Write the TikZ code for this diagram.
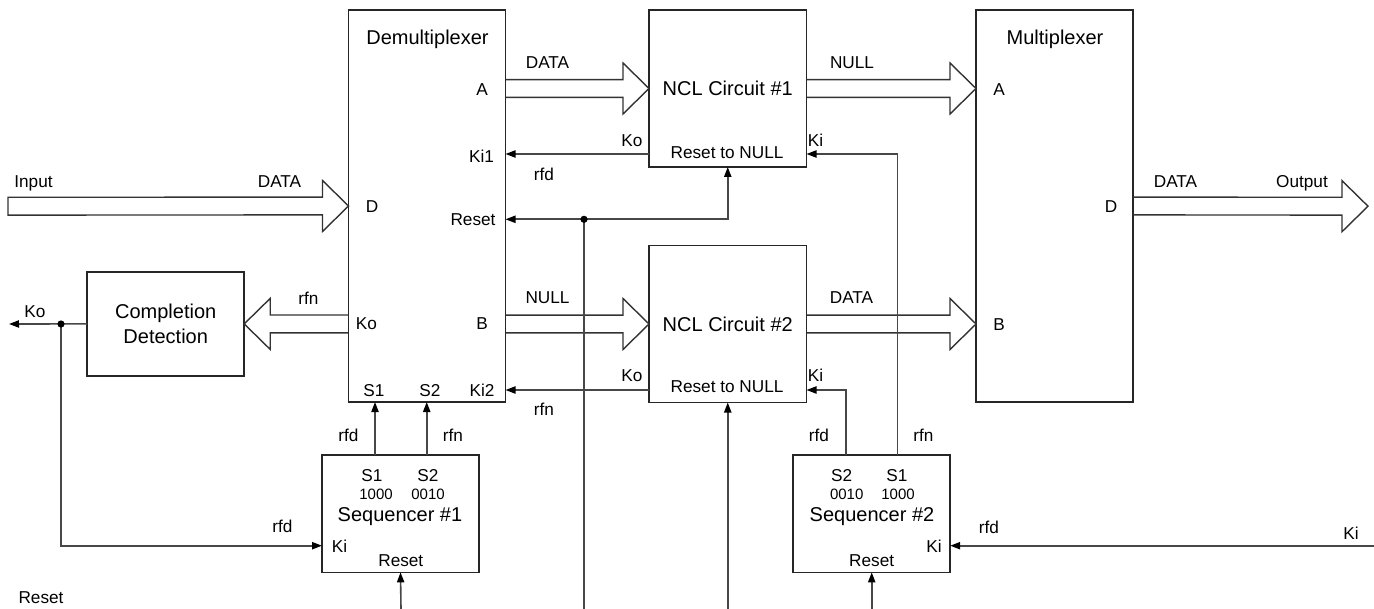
\documentclass[tikz,border=0pt]{standalone}
\usepackage{fontspec}
\setmainfont{Liberation Sans}
\usetikzlibrary{arrows.meta, calc}

\colorlet{wirec}{black!72}
\tikzset{
  blk/.style={draw=black!85, line width=0.8pt, inner sep=0pt, outer sep=0pt,
    minimum width=78.5pt, align=center, font=\fontsize{10}{12.5}\selectfont},
  wire/.style={draw=wirec, line width=0.8pt},
  sig/.style={wire, -{Triangle[length=5pt, width=3.6pt, color=black]}},
  busline/.style={draw=black!80, line width=0.7pt},
  lbl/.style={inner sep=0pt, text height=6.15pt, text depth=0pt, font=\fontsize{8.6}{10}\selectfont},
  biglbl/.style={lbl, text height=7.2pt, font=\fontsize{10}{12}\selectfont},
  numlbl/.style={lbl, text height=5.4pt, font=\fontsize{7.5}{9}\selectfont},
}
% hollow bus arrow from #2 to #3
\newcommand\bus[3][]{%
  \draw[busline] let \p1=#2, \p2=#3, \n1={13*sign(\x2-\x1)} in
    (\x1,\y1+4.45pt) -- (\x2-\n1,\y2+4.45pt) -- (\x2-\n1,\y2+12.75pt) -- (\x2,\y2)
    -- (\x2-\n1,\y2-12.75pt) -- (\x2-\n1,\y2-4.45pt) -- (\x1,\y1-4.45pt) #1;}

\begin{document}
\begin{tikzpicture}[x=0.5pt, y=-0.5pt]
\useasboundingbox (0,0) rectangle (1374,609);

% blocks
\node[blk, minimum height=196pt] (demux) at (427,206) {};
\node[blk, minimum height=196pt] (mux) at (1054.5,206) {};
\node[blk, minimum width=78.75pt, minimum height=78.5pt] (ncla) at (727.75,88.5) {NCL Circuit \#1};
\node[blk, minimum width=78.75pt, minimum height=78.5pt] (nclb) at (727.75,324) {NCL Circuit \#2};
\node[blk, minimum height=52.15pt] (compl) at (165.7,323.9) {Completion\\Detection};
\node[blk, minimum height=58.65pt] (seqa) at (400.5,513.7) {};
\node[blk, minimum height=58.65pt] (seqb) at (871.7,513.7) {};

% ports and loose ends
\coordinate (inp) at (8,206.2);
\coordinate (outp) at (1368,206.2);
\coordinate (kia) at (649,154);
\coordinate (kib) at (649,390);
\coordinate (rdot) at (584,219.3);
\coordinate (koend) at (9,324);
\coordinate (kodot) at (61,324);
\coordinate (sa1) at (375,455);
\coordinate (sa2) at (426.7,455);
\coordinate (sb2) at (845.7,455);
\coordinate (sb1) at (897.3,455);
\coordinate (kiin) at (1374,545.7);
\coordinate (rb1) at (401,609);
\coordinate (rb2) at (584,609);
\coordinate (rb3) at (727.75,609);
\coordinate (rb4) at (871.7,609);

% data buses
\bus[-- cycle]{(inp)}{(demux.west)}
\bus{(demux.east |- ncla.west)}{(ncla.west)}
\bus{(ncla.east)}{(mux.west |- ncla.east)}
\bus{(demux.east |- nclb.west)}{(nclb.west)}
\bus{(nclb.east)}{(mux.west |- nclb.east)}
\bus{(mux.east)}{(outp)}
\bus{(demux.west |- compl.east)}{(compl.east)}

% handshake and reset wires
\draw[sig] (kia) -- (demux.east |- kia);
\draw[sig] (kib) -- (demux.east |- kib);
\draw[sig] (rdot) -- (demux.east |- rdot);
\draw[sig] (rdot) -| (ncla.south);
\draw[wire] (rb2) -- (rdot);
\fill (rdot) circle (1.8pt);
\draw[sig] (rb3) -- (nclb.south);
\draw[sig] (sa1) -- (sa1 |- demux.south);
\draw[sig] (sa2) -- (sa2 |- demux.south);
\draw[sig] (rb1) -- (seqa.south);
\draw[sig] (compl.west) -- (koend);
\draw[sig] (kodot) |- (seqa.west |- kiin);
\fill (kodot) circle (1.8pt);
\draw[sig] (sb2) |- (nclb.east |- kib);
\draw[sig] (sb1) |- (ncla.east |- kia);
\draw[sig] (kiin) -- (seqb.east |- kiin);
\draw[sig] (rb4) -- (seqb.south);

% labels
\foreach \x/\y/\t [count=\i] in {33.5/181/Input, 279.5/181/DATA, 482/89/A, 481.5/156/Ki1,
  372/206/D, 473/219/Reset, 547.5/62/DATA, 632/140/Ko, 544/174/rfd, 815.5/140/Ki,
  727/152/Reset to NULL, 852/62/NULL, 999/89/A, 1111/206/D, 1175.5/181/DATA,
  1302/181/Output, 308.5/298/rfn, 366.5/323/Ko, 482/323/B, 547.5/297/NULL,
  851.5/297/DATA, 999/324/B, 632/375.7/Ko, 727/386.7/Reset to NULL, 815.5/375.7/Ki,
  374/390/S1, 430/390/S2, 482/390/Ki2, 544/409/rfn, 35/311.7/Ko, 348.5/435/rfd,
  453/435/rfn, 372/475/S1, 428/475/S2, 282.5/526.7/rfd, 339.5/546.7/Ki,
  400.8/560/Reset, 819/435/rfd, 923.5/435/rfn, 841.7/475/S2, 897/475/S1,
  934/546.7/Ki, 871.7/560/Reset, 989/527/rfd, 1351/533/Ki, 41/597/Reset}
  \node[lbl] (n\i) at (\x,\y) {\t};
\foreach \x/\y/\t [count=\i] in {427.5/37/Demultiplexer, 1055/37/Multiplexer,
  400/514/Sequencer \#1, 872/514/Sequencer \#2}
  \node[biglbl] (b\i) at (\x,\y) {\t};
\foreach \x/\y/\t [count=\i] in {376/494/1000, 428/494/0010, 846.7/494/0010, 898/494/1000}
  \node[numlbl] (s\i) at (\x,\y) {\t};
\end{tikzpicture}
\end{document}
